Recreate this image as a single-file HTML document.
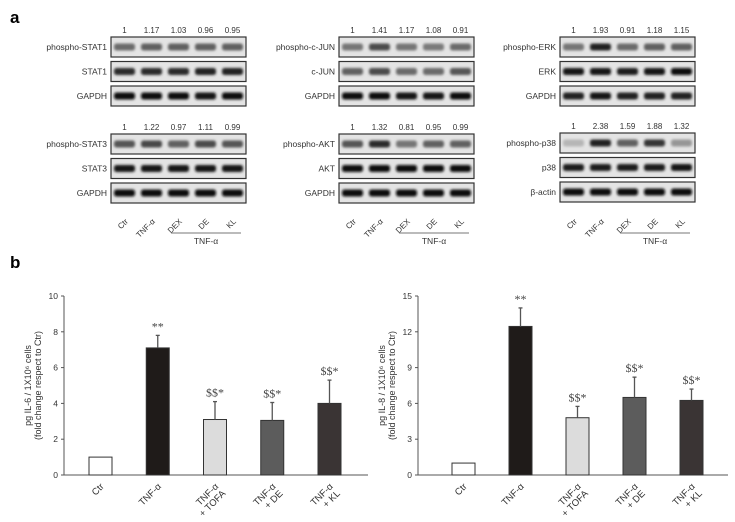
<!DOCTYPE html>
<html><head><meta charset="utf-8"><style>
body{margin:0;background:#fff}
svg{display:block;font-family:"Liberation Sans",sans-serif}
</style></head><body>
<svg id="fig" width="735" height="522" viewBox="0 0 735 522" xmlns="http://www.w3.org/2000/svg">
<defs><filter id="blur" x="-20%" y="-60%" width="140%" height="220%"><feGaussianBlur stdDeviation="1.2"/></filter></defs>
<text x="10" y="23" font-size="17" font-weight="bold">a</text>
<text x="10" y="268" font-size="17" font-weight="bold">b</text>
<g id="blots"></g>
<g id="chart1"></g>
<g id="chart2"></g>
</svg>
<script>
const NS="http://www.w3.org/2000/svg";
function mk(tag,attrs,parent,txt){const e=document.createElementNS(NS,tag);for(const k in attrs)e.setAttribute(k,attrs[k]);if(txt!==undefined)e.textContent=txt;parent.appendChild(e);return e;}

/* ---------- Western blots ---------- */
const lanes=["Ctr","TNF-α","DEX","DE","KL"];
const blotPanels=[
 {x:111,groups:[{y:37,nums:["1","1.17","1.03","0.96","0.95"],rows:[["phospho-STAT1",[0.55,0.6,0.6,0.6,0.6]],["STAT1",[0.85,0.85,0.85,0.88,0.9]],["GAPDH",[1,0.98,0.98,0.96,1]]]},
                {y:134,nums:["1","1.22","0.97","1.11","0.99"],rows:[["phospho-STAT3",[0.65,0.72,0.6,0.7,0.65]],["STAT3",[0.95,0.95,0.95,0.95,0.95]],["GAPDH",[1,1,1,1,1]]]}]},
 {x:339,groups:[{y:37,nums:["1","1.41","1.17","1.08","0.91"],rows:[["phospho-c-JUN",[0.5,0.7,0.5,0.48,0.55]],["c-JUN",[0.6,0.7,0.55,0.55,0.65]],["GAPDH",[0.98,0.98,0.96,0.96,0.98]]]},
                {y:134,nums:["1","1.32","0.81","0.95","0.99"],rows:[["phospho-AKT",[0.65,0.85,0.5,0.6,0.6]],["AKT",[1,1,1,1,1]],["GAPDH",[1,0.98,0.98,0.98,0.98]]]}]},
 {x:560,groups:[{y:37,nums:["1","1.93","0.91","1.18","1.15"],rows:[["phospho-ERK",[0.5,0.88,0.55,0.6,0.6]],["ERK",[0.95,0.95,0.92,0.95,0.98]],["GAPDH",[0.9,0.96,0.88,0.88,0.9]]]},
                {y:133,nums:["1","2.38","1.59","1.88","1.32"],rows:[["phospho-p38",[0.2,0.9,0.6,0.8,0.35]],["p38",[0.92,0.92,0.92,0.92,0.95]],["β-actin",[1,1,1,1,1]]]}]}
];
const B=document.getElementById('blots');
const bw=135,rh=20,gap=24.5,lw=27;
blotPanels.forEach((p,pi)=>{
 p.groups.forEach((g,gi)=>{
  g.nums.forEach((n,i)=>{const t=mk('text',{x:p.x+lw*(i+0.5),y:g.y-4,'font-size':8,'text-anchor':'middle',fill:'#333'},B,n);
   });
  g.rows.forEach((r,ri)=>{
   const y=g.y+ri*gap;
   const bg=mk('rect',{x:p.x,y:y,width:bw,height:rh,fill:'#e4e4e4',stroke:'#333','stroke-width':1.2},B);
   
   const lab=mk('text',{x:p.x-4,y:y+rh/2+3,'font-size':8.5,'text-anchor':'end',fill:'#333'},B,r[0]);
   
   r[1].forEach((v,i)=>{const c=Math.round(225-v*215);
    const band=mk('rect',{x:p.x+lw*i+3,y:y+rh/2-3.5,width:lw-6,height:7,rx:2.5,fill:`rgb(${c},${c},${c})`,filter:'url(#blur)'},B);
    });
  });
 });
 const ly=222;
 lanes.forEach((l,i)=>{const cx=p.x+lw*(i+0.5)+4;
  const t=mk('text',{x:cx,y:ly,'font-size':8,'text-anchor':'end',fill:'#333',transform:`rotate(-45 ${cx} ${ly})`},B,l);
  });
 const ln=mk('line',{x1:p.x+60,x2:p.x+130,y1:233,y2:233,stroke:'#777','stroke-width':1},B);
 
 const tt=mk('text',{x:p.x+95,y:244,'font-size':8.5,'text-anchor':'middle',fill:'#333'},B,'TNF-α');
 
});

/* ---------- Bar charts ---------- */
const categories=[["Ctr"],["TNF-α"],["TNF-α","+ TOFA"],["TNF-α","+ DE"],["TNF-α","+ KL"]];
const il6Values=[1,7.1,3.1,3.05,4.0];
const il6Errors=[0,0.7,1.0,1.0,1.3];
const il6Sig=["","**","$$*","$$*","$$*"];
const il6Ticks=[0,2,4,6,8,10];
const il8Values=[1,12.45,4.8,6.5,6.25];
const il8Errors=[0,1.55,0.95,1.7,0.95];
const il8Sig=["","**","$$*","$$*","$$*"];
const il8Ticks=[0,3,6,9,12,15];
const barColors=["#ffffff","#1f1b19","#dcdcdc","#5c5c5c","#3a3434"];

function chart(gid,ax,x0,x1,barX0,step,vals,errs,sig,ticks,ymax,lab1){
 const G=document.getElementById(gid);
 const yb=475,yt=296;
 const y=v=>yb-(v/ymax)*(yb-yt);
 const xb=i=>barX0+i*step;
 const bwid=23;
 const a1=mk('line',{x1:ax,x2:ax,y1:yt,y2:yb,stroke:'#555'},G);
 const a2=mk('line',{x1:ax,x2:x1,y1:yb,y2:yb,stroke:'#555'},G);
 ticks.forEach(t=>{mk('line',{x1:ax-3,x2:ax,y1:y(t),y2:y(t),stroke:'#555'},G);
  const tl=mk('text',{x:ax-6,y:y(t)+3,'font-size':8.5,'text-anchor':'end',fill:'#333'},G,t);
  });
 const cy=(yb+yt)/2;
 const tt=mk('text',{x:ax-33,y:cy,'font-size':9,'text-anchor':'middle',fill:'#333',transform:`rotate(-90 ${ax-33} ${cy})`},G,lab1);
 
 const t2=mk('text',{x:ax-23,y:cy,'font-size':9,'text-anchor':'middle',fill:'#333',transform:`rotate(-90 ${ax-23} ${cy})`},G,'(fold change respect to Ctr)');
 
 vals.forEach((v,i)=>{
  const r=mk('rect',{x:xb(i),y:y(v),width:bwid,height:yb-y(v),fill:barColors[i],stroke:'#333','stroke-width':1},G);
  
  const cx=xb(i)+bwid/2;
  if(errs[i]>0){const e=mk('line',{x1:cx,x2:cx,y1:y(v),y2:y(v+errs[i]),stroke:'#555','stroke-width':1.3},G);
   
   mk('line',{x1:cx-2,x2:cx+2,y1:y(v+errs[i]),y2:y(v+errs[i]),stroke:'#555','stroke-width':1.3},G);}
  if(sig[i]){const s=mk('text',{x:cx,y:y(v+errs[i])-5,'font-size':12,'text-anchor':'middle',fill:'#444','font-family':'Liberation Serif, serif'},G,sig[i]);
   }
  const lx=cx+4,ly=yb+12;
  const ct=mk('text',{x:lx,y:ly,'font-size':9.5,'text-anchor':'end',fill:'#333',transform:`rotate(-45 ${lx} ${ly})`},G);
  
  categories[i].forEach((ln,k)=>{mk('tspan',{x:lx,dy:k?10:0},ct,ln);});
 });
}
chart('chart1',64,64,368,89,57.25,il6Values,il6Errors,il6Sig,il6Ticks,10,'pg IL-6 / 1X10⁶ cells');
chart('chart2',418,418,728,452,57,il8Values,il8Errors,il8Sig,il8Ticks,15,'pg IL-8 / 1X10⁶ cells');
</script>
</body></html>
